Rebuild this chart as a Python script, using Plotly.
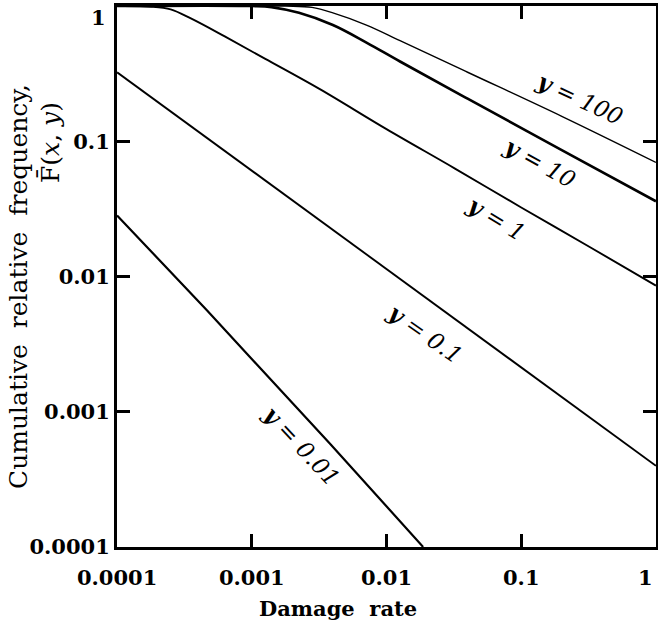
import plotly.graph_objects as go

# Damage rate (x) and cumulative relative frequency F(x, y)
y100_x = [0.0001, 0.00178, 0.0028, 0.004, 0.0071, 0.0126, 0.04, 0.2, 1.0]
y100_F = [1.0, 1.0, 0.977, 0.891, 0.724, 0.556, 0.324, 0.153, 0.0698]

y10_x = [0.0001, 0.001, 0.0014, 0.00224, 0.004, 0.0071, 0.0126, 0.04, 0.2, 1.0]
y10_F = [1.0, 1.0, 0.982, 0.891, 0.724, 0.537, 0.389, 0.2065, 0.0861, 0.036]

y1_x = [0.0001, 0.00018, 0.00025, 0.00035, 0.00063, 0.00126, 0.0032, 0.01, 0.032, 0.1, 0.32, 1.0]
y1_F = [1.0, 0.989, 0.944, 0.813, 0.596, 0.407, 0.243, 0.123, 0.0631, 0.0324, 0.0166, 0.00857]

y01_x = [0.0001, 0.001, 0.01, 0.1, 1.0]
y01_F = [0.324, 0.0607, 0.01135, 0.00212, 0.000398]

y001_x = [0.0001, 0.000466, 0.00381, 0.0187]
y001_F = [0.0283, 0.0056, 0.00058, 0.0001]

series = [
    ("y = 100", y100_x, y100_F, 1.4, "spline"),
    ("y = 10", y10_x, y10_F, 2.6, "spline"),
    ("y = 1", y1_x, y1_F, 1.9, "spline"),
    ("y = 0.1", y01_x, y01_F, 1.9, "linear"),
    ("y = 0.01", y001_x, y001_F, 2.2, "linear"),
]

# curve labels: text, position (log10 x, log10 F), rotation
label_text = ["100", "10", "1", "0.1", "0.01"]
label_lx = [-0.56, -0.86, -1.18, -1.71, -2.63]
label_ly = [-0.68, -1.16, -1.57, -2.42, -3.25]
label_angle = [25, 29, 31, 35, 47]

x_ticks = [0.0001, 0.001, 0.01, 0.1, 1]
x_ticktext = ["0.0001", "0.001", "0.01", "0.1", ""]
x_end_label = "1"
y_ticks = [0.0001, 0.001, 0.01, 0.1, 1]
y_ticktext = ["0.0001", "0.001", "0.01", "0.1", ""]
y_top_label = "1"

FONT = "DejaVu Serif"
W, H = 658, 625
L, R, T, B = 117, 2, 6, 78
PW, PH = W - L - R, H - T - B


def px_to_paper(px, py):
    return (px - L) / PW, 1 - (py - T) / PH


fig = go.Figure()
for name, xs, fs, w, shp in series:
    line = dict(color="black", width=w, shape=shp)
    if shp == "spline":
        line["smoothing"] = 1.0
    fig.add_trace(go.Scatter(x=xs, y=fs, mode="lines", name=name, line=line,
                             showlegend=False, hoverinfo="skip"))

for t, lx, ly, a in zip(label_text, label_lx, label_ly, label_angle):
    fig.add_annotation(x=lx, y=ly, xref="x", yref="y",
                       text=f"<i><b>y</b> = {t}</i>", showarrow=False,
                       xanchor="center", yanchor="middle",
                       textangle=a, font=dict(family=FONT, size=23, color="black"))

TICKFONT = dict(family=FONT, size=21, color="black", weight="bold")

# end tick labels that sit slightly inside the figure edge in the reference
ax, ay = px_to_paper(108, 17)
fig.add_annotation(x=ax, y=ay, xref="paper", yref="paper", text=y_top_label,
                   showarrow=False, xanchor="right", yanchor="middle", font=TICKFONT)
ax, ay = px_to_paper(645, 577)
fig.add_annotation(x=ax, y=ay, xref="paper", yref="paper", text=x_end_label,
                   showarrow=False, xanchor="center", yanchor="middle", font=TICKFONT)

# y-axis title as two rotated lines
ax, ay = px_to_paper(18, 287)
fig.add_annotation(x=ax, y=ay, xref="paper", yref="paper",
                   text="Cumulative\u00a0 relative\u00a0 frequency,",
                   showarrow=False, textangle=-90, xanchor="center", yanchor="middle",
                   font=dict(family=FONT, size=25, color="black"))
ax, ay = px_to_paper(50, 143)
fig.add_annotation(x=ax, y=ay, xref="paper", yref="paper",
                   text="F\u0304(<i>x</i>, <i>y</i>)", showarrow=False, textangle=-90,
                   xanchor="center", yanchor="middle",
                   font=dict(family=FONT, size=25, color="black"))
# x-axis title
ax, ay = px_to_paper(338, 608)
fig.add_annotation(x=ax, y=ay, xref="paper", yref="paper",
                   text="<b>Damage\u00a0 rate</b>", showarrow=False,
                   xanchor="center", yanchor="middle",
                   font=dict(family=FONT, size=21, color="black"))

axis_common = dict(type="log", showgrid=False, zeroline=False, showline=True, linecolor="black",
                   linewidth=3, mirror="ticks", ticks="inside", ticklen=13, tickwidth=2.5,
                   tickcolor="black", range=[-4.0005, 0.0005], automargin=False,
                   ticklabeloverflow="allow", tickfont=TICKFONT)

fig.update_layout(
    width=W, height=H,
    margin=dict(l=L, r=R, t=T, b=B),
    paper_bgcolor="white", plot_bgcolor="white",
    xaxis=dict(**axis_common, tickvals=x_ticks, ticktext=x_ticktext, ticklabelstandoff=10),
    yaxis=dict(**axis_common, tickvals=y_ticks, ticktext=y_ticktext),
)

fig.write_html("out.html", config={"displayModeBar": False},
               post_script="document.body.style.margin='0px';document.body.style.overflow='hidden';")
